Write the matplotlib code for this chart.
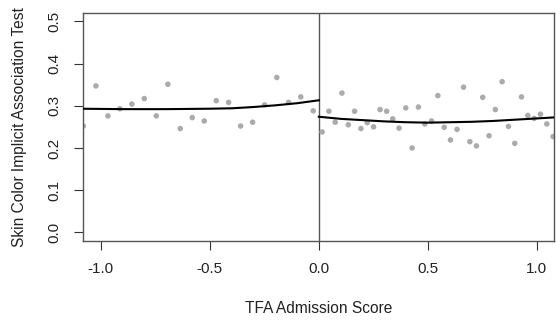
"""
Regression discontinuity plot: skin color IAT vs TFA admission score
"""

import matplotlib
matplotlib.use("Agg")
from matplotlib import pyplot as plt

# binned means, left of the cutoff
left_x = [-1.081, -1.023, -0.968, -0.913, -0.858, -0.801, -0.746, -0.693, -0.636, -0.581,
          -0.526, -0.471, -0.414, -0.359, -0.304, -0.249, -0.193, -0.139, -0.083, -0.026]
left_y = [0.252, 0.347, 0.276, 0.293, 0.304, 0.317, 0.276, 0.351, 0.246, 0.272,
          0.264, 0.312, 0.308, 0.252, 0.261, 0.302, 0.367, 0.308, 0.321, 0.288]

# binned means, right of the cutoff
right_x = [0.015, 0.046, 0.075, 0.106, 0.135, 0.164, 0.193, 0.222, 0.251, 0.281,
           0.311, 0.339, 0.368, 0.399, 0.428, 0.457, 0.486, 0.517, 0.546, 0.575,
           0.604, 0.634, 0.664, 0.693, 0.723, 0.752, 0.781, 0.810, 0.841, 0.870,
           0.899, 0.930, 0.959, 0.988, 1.017, 1.046, 1.075]
right_y = [0.238, 0.287, 0.261, 0.330, 0.255, 0.287, 0.246, 0.260, 0.250, 0.291,
           0.287, 0.269, 0.247, 0.295, 0.200, 0.297, 0.257, 0.264, 0.324, 0.249,
           0.219, 0.244, 0.344, 0.215, 0.205, 0.320, 0.229, 0.291, 0.357, 0.251,
           0.211, 0.321, 0.277, 0.270, 0.280, 0.257, 0.227]

# fitted curves
fit_left_x = [-1.1, -0.9, -0.7, -0.5, -0.4, -0.3, -0.2, -0.1, 0.0]
fit_left_y = [0.293, 0.292, 0.292, 0.293, 0.294, 0.297, 0.301, 0.306, 0.313]
fit_right_x = [0.0, 0.1, 0.2, 0.3, 0.4, 0.5, 0.6, 0.7, 0.8, 0.9, 1.0, 1.1]
fit_right_y = [0.274, 0.269, 0.266, 0.263, 0.261, 0.260, 0.261, 0.262, 0.264, 0.267, 0.270, 0.273]

x_ticks = [-1.0, -0.5, 0.0, 0.5, 1.0]
y_ticks = [0.0, 0.1, 0.2, 0.3, 0.4, 0.5]

plt.rcParams["font.family"] = ["Liberation Sans", "DejaVu Sans"]

fig = plt.figure(figsize=(5.56, 3.22), dpi=100)
ax = fig.add_axes([0.149, 0.252, 0.847, 0.708])

point_color = "#ababab"
ax.scatter(left_x, left_y, s=16, color=point_color, edgecolors="none", zorder=2)
ax.scatter(right_x, right_y, s=16, color=point_color, edgecolors="none", zorder=2)

ax.plot(fit_left_x, fit_left_y, color="black", lw=1.5, zorder=3)
ax.plot(fit_right_x, fit_right_y, color="black", lw=1.5, zorder=3)

# cutoff
ax.axvline(0, color="#555555", lw=1.0, zorder=1)

ax.set_xlim(-1.083, 1.078)
ax.set_ylim(-0.02, 0.52)

ax.set_xticks(x_ticks)
ax.set_xticklabels([f"{t:.1f}" for t in x_ticks])
ax.set_yticks(y_ticks)
ax.set_yticklabels([f"{t:.1f}" for t in y_ticks], rotation=90, va="center", ha="right")

for spine in ax.spines.values():
    spine.set_color("#555555")
    spine.set_linewidth(1.0)

ax.tick_params(axis="both", direction="out", length=6.5, width=0.8, color="#333333",
               labelsize=11, labelcolor="#222222")
ax.tick_params(axis="x", pad=9)
ax.tick_params(axis="y", pad=9)

ax.set_xlabel("TFA Admission Score", fontsize=11.2, color="#222222")
ax.set_ylabel("Skin Color Implicit Association Test", fontsize=11.2, color="#222222")
ax.xaxis.set_label_coords(0.5, -0.265)
ax.yaxis.set_label_coords(-0.118, 0.5)

plt.savefig("out.png", dpi=100)
